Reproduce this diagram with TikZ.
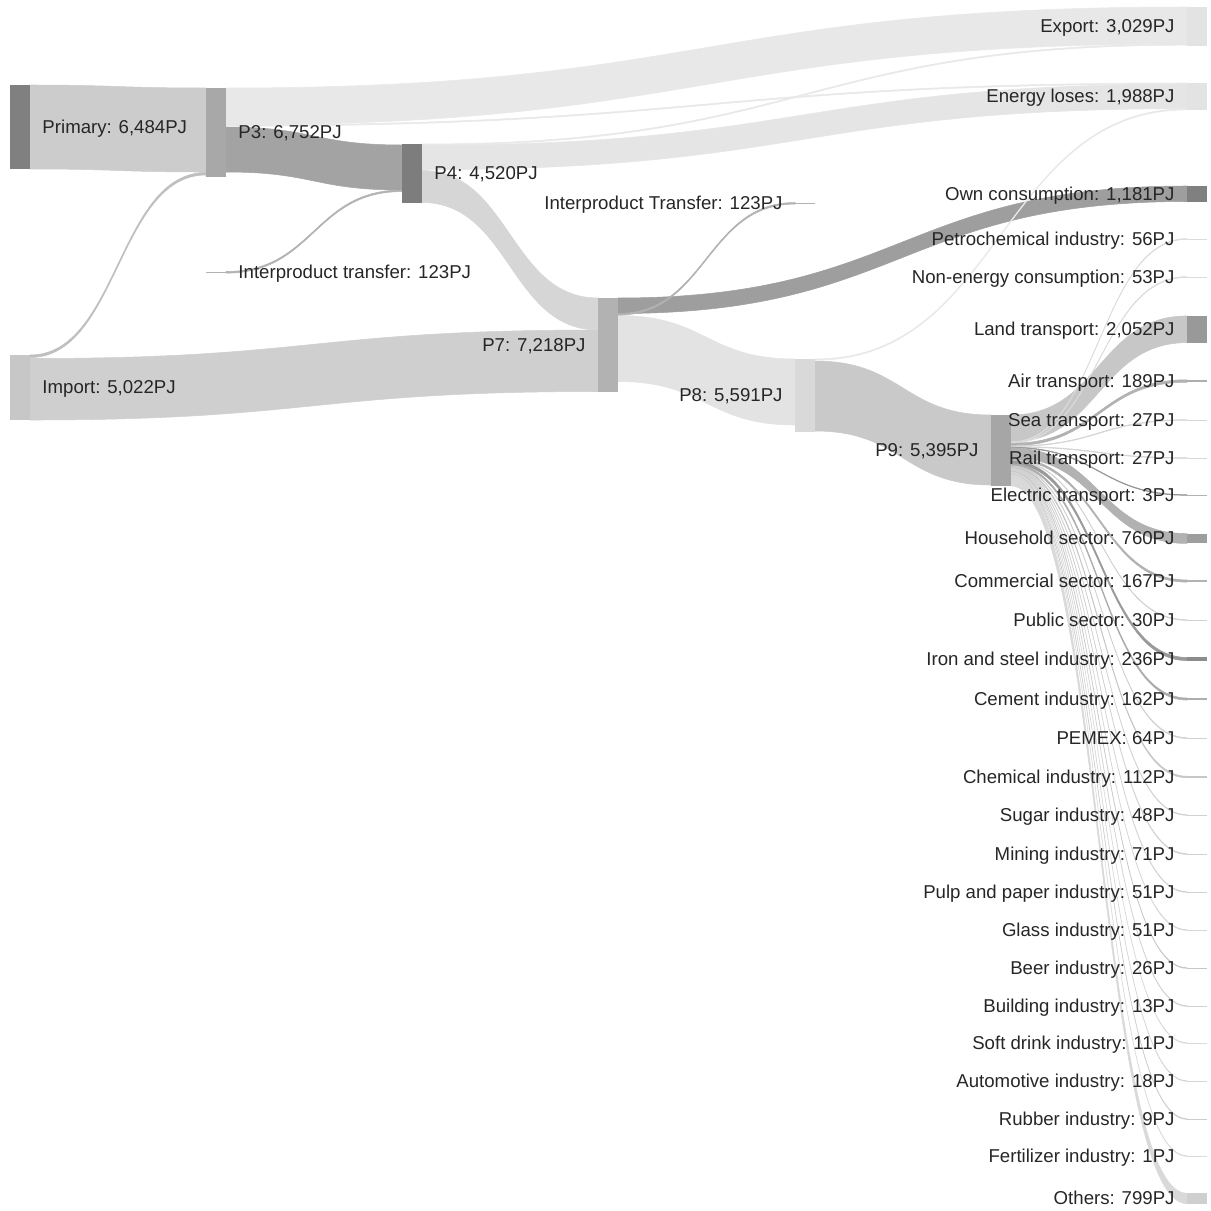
\documentclass[tikz,border=0pt]{standalone}
\usepackage{fontspec}
\setmainfont{Liberation Sans}
\usetikzlibrary{calc,positioning}
\pgfdeclarelayer{bars}
\pgfdeclarelayer{labels}
\pgfsetlayers{main,bars,labels}

\tikzset{
	skbar/.style={rectangle, draw=none, inner sep=0pt, outer sep=0pt, minimum width=0.4cm, anchor=north west},
	sklabel/.style={inner sep=0pt, outer sep=0pt, text height=0.716em, text depth=0pt, text=black!85, node distance=0.25cm},
}
% bar: name, left x, top y, height, colour
\newcommand\sknode[5]{\begin{pgfonlayer}{bars}\node[skbar, fill=#5, minimum height={(#4)*0.02cm}] (#1) at (#2,#3) {};\end{pgfonlayer}}
% band: source, offset, target, offset, width, colour
\newcommand\skflow[6]{%
	\coordinate (s1) at ($(#1.north east)+(0,#2)$);
	\coordinate (t1) at ($(#3.north west)+(0,#4)$);
	\coordinate (s2) at ($(s1)+(0,#5)$);
	\coordinate (t2) at ($(t1)+(0,#5)$);
	\coordinate (m) at ($(s1)!0.5!(t1)$);
	\path[fill=#6, draw=#6, line width=0.3pt] (s1) .. controls (m|-s1) and (m|-t1) .. (t1) -- (t2) .. controls (m|-t2) and (m|-s2) .. (s2) -- cycle;}

\begin{document}
\begin{tikzpicture}[x=0.02cm, y=-0.02cm, font=\fontsize{10.6}{12.7}\selectfont, line join=round, line cap=round]
	\useasboundingbox (0,0) rectangle (1211,1211);
	\sknode{primary}{10}{85}{84}{black!50}
	\sknode{import}{10}{355}{65}{black!22}
	\sknode{p3}{206}{88}{89}{black!34}
	\sknode{itleft}{206}{271.5}{1.6}{black!30}
	\sknode{p4}{402}{144}{59}{black!51}
	\sknode{p7}{598}{298}{94}{black!30}
	\sknode{itright}{795}{202.5}{1.6}{black!30}
	\sknode{p8}{795}{359}{73}{black!15}
	\sknode{p9}{991}{415}{71}{black!35}
	\sknode{export}{1187}{7}{39}{black!11}
	\sknode{losses}{1187}{83}{27}{black!11}
	\sknode{own}{1187}{186}{16}{black!50}

	\skflow{primary}{0}{p3}{0}{84}{black!20}
	\skflow{import}{3.5}{p7}{32}{61.5}{black!19}
	\skflow{p3}{0}{export}{0}{37}{black!9}
	\skflow{p3}{39}{p4}{1}{45}{black!36}
	\skflow{p4}{1.2}{losses}{1.2}{24.5}{black!10}
	\skflow{p4}{26.5}{p7}{0}{32}{black!16}
	\skflow{p7}{17.5}{p8}{0}{66}{black!11}
	\skflow{p7}{0}{own}{0}{15.5}{black!38}
	\skflow{p8}{2}{p9}{0}{70}{black!21}
	\skflow{import}{0}{p3}{84.5}{2.5}{black!25}
	\skflow{itleft}{0}{p4}{46}{1.6}{black!30}
	\skflow{p3}{37}{losses}{0}{1.2}{black!9}
	\skflow{p4}{0}{export}{37}{1.2}{black!9}
	\skflow{p7}{15.5}{itright}{0}{1.6}{black!30}
	\skflow{p8}{0}{losses}{25.7}{1.2}{black!9}

	\foreach \nm/\yc/\w/\off/\lc/\nc/\txt in {
		land/329.3/26.7/0/black!22/black!40/{Land transport: 2,052PJ},
		petro/239/0.8/26.7/black!14/black!14/{Petrochemical industry: 56PJ},
		nonenergy/277/0.8/27.5/black!14/black!14/{Non-energy consumption: 53PJ},
		air/381/2.5/28.3/black!30/black!32/{Air transport: 189PJ},
		sea/420/0.7/30.8/black!16/black!16/{Sea transport: 27PJ},
		rail/458/0.7/31.5/black!16/black!16/{Rail transport: 27PJ},
		electric/495/0.7/32.2/black!40/black!30/{Electric transport: 3PJ},
		household/538.5/9.9/32.9/black!30/black!38/{Household sector: 760PJ},
		commercial/581/2.2/42.8/black!30/black!30/{Commercial sector: 167PJ},
		public/620/0.7/45/black!18/black!18/{Public sector: 30PJ},
		iron/659/3.1/45.7/black!40/black!45/{Iron and steel industry: 236PJ},
		cement/699/2.1/48.8/black!32/black!32/{Cement industry: 162PJ},
		pemex/738/0.9/50.9/black!18/black!18/{PEMEX: 64PJ},
		chemical/777/1.5/51.8/black!22/black!22/{Chemical industry: 112PJ},
		sugar/815/0.7/53.3/black!18/black!18/{Sugar industry: 48PJ},
		mining/854/0.9/54/black!18/black!18/{Mining industry: 71PJ},
		pulp/892/0.7/54.9/black!18/black!18/{Pulp and paper industry: 51PJ},
		glass/930/0.7/55.6/black!16/black!16/{Glass industry: 51PJ},
		beer/968/0.7/56.3/black!22/black!22/{Beer industry: 26PJ},
		building/1006/0.7/57/black!18/black!18/{Building industry: 13PJ},
		soft/1043/0.7/57.7/black!14/black!14/{Soft drink industry: 11PJ},
		auto/1081/0.7/58.4/black!16/black!16/{Automotive industry: 18PJ},
		rubber/1119/0.7/59.1/black!20/black!20/{Rubber industry: 9PJ},
		fertilizer/1156/0.7/59.8/black!14/black!14/{Fertilizer industry: 1PJ},
		others/1198.5/10.4/60.5/black!15/black!19/{Others: 799PJ}}{
		\sknode{\nm}{1187}{\yc-\w/2}{\w}{\nc}
		\skflow{p9}{\off}{\nm}{0}{\w}{\lc}
		\begin{pgfonlayer}{labels}\node[sklabel, left=of \nm] (\nm-label) {\txt};\end{pgfonlayer}
	}

	\begin{pgfonlayer}{labels}
		\node[sklabel, right=of primary] (primary-label) {Primary: 6,484PJ};
		\node[sklabel, right=of import] (import-label) {Import: 5,022PJ};
		\node[sklabel, right=of p3] (p3-label) {P3: 6,752PJ};
		\node[sklabel, right=of itleft] (itleft-label) {Interproduct transfer: 123PJ};
		\node[sklabel, right=of p4] (p4-label) {P4: 4,520PJ};
		\node[sklabel, left=of p7] (p7-label) {P7: 7,218PJ};
		\node[sklabel, left=of itright] (itright-label) {Interproduct Transfer: 123PJ};
		\node[sklabel, left=of p8] (p8-label) {P8: 5,591PJ};
		\node[sklabel, left=of p9] (p9-label) {P9: 5,395PJ};
		\node[sklabel, left=of export] (export-label) {Export: 3,029PJ};
		\node[sklabel, left=of losses] (losses-label) {Energy loses: 1,988PJ};
		\node[sklabel, left=of own] (own-label) {Own consumption: 1,181PJ};
	\end{pgfonlayer}
\end{tikzpicture}
\end{document}
